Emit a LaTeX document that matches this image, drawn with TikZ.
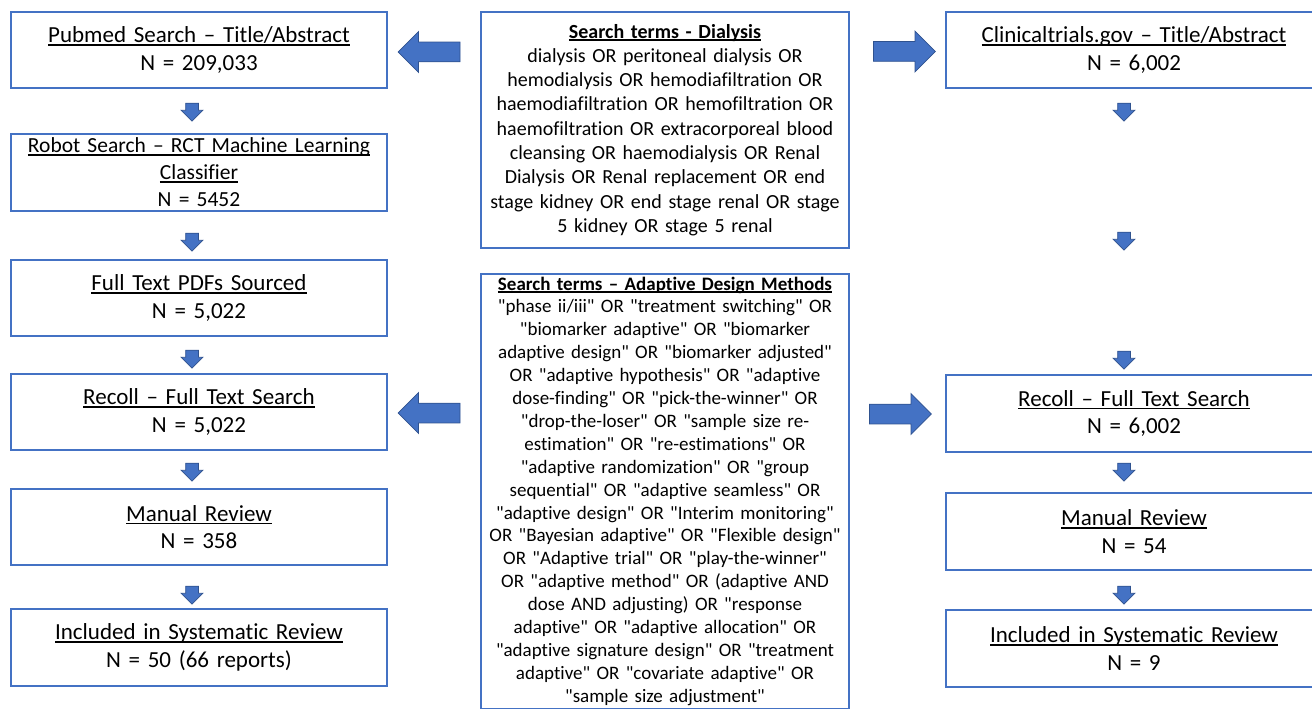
\documentclass[tikz,border=0pt]{standalone}
\usepackage{fontspec}
\setmainfont{Carlito}[Ligatures={TeXOff,NoCommon}]
\usetikzlibrary{shapes.arrows,calc}

\definecolor{boxblue}{RGB}{68,114,196}
\definecolor{arrowfill}{RGB}{68,114,196}
\definecolor{arrowline}{RGB}{47,82,143}

% underline that keeps a fixed depth
\newcommand{\ulin}[1]{\leavevmode\setbox0=\hbox{#1}\rlap{\rule[-0.13em]{\wd0}{0.065em}}\box0}

\tikzset{
  flowbox/.style={draw=boxblue, line width=1.5pt, fill=white, text width=376pt,
    align=center, minimum height=76pt, inner sep=0pt,
    font=\fontsize{23}{27.5}\selectfont},
  termbox/.style={draw=boxblue, line width=1.5pt, fill=white, text width=364pt,
    align=center, inner xsep=2pt},
  downarrow/.style={single arrow, draw=arrowline, fill=arrowfill, line width=0.75pt,
    rotate=-90, inner xsep=0pt, inner ysep=6pt, single arrow head extend=4.5pt,
    minimum height=18pt},
  bigarrow/.style={single arrow, draw=arrowline, fill=arrowfill, line width=0.75pt,
    inner xsep=0pt, inner ysep=9.5pt, single arrow head extend=10.5pt,
    minimum height=62pt},
}

\begin{document}
\begin{tikzpicture}[x=1pt, y=-1pt]
  \useasboundingbox (0,0) rectangle (1312,709);
  \clip (0,0) rectangle (1312,709);

  % left column: pubmed
  \node[flowbox] (pub) at (199,50) {\ulin{Pubmed Search – Title/Abstract}\\N = 209,033};
  \node[flowbox, minimum height=77pt, font=\fontsize{21.5}{27}\selectfont] (robot) at (199,172.5) {\ulin{Robot Search – RCT Machine Learning}\\\ulin{Classifier}\\N = 5452};
  \node[flowbox] (pdfs) at (199,298) {\ulin{Full Text PDFs Sourced}\\N = 5,022};
  \node[flowbox] (recollL) at (199,412) {\ulin{Recoll – Full Text Search}\\N = 5,022};
  \node[flowbox] (manualL) at (199,527) {\ulin{Manual Review}\\N = 358};
  \node[flowbox, minimum height=77pt] (inclL) at (199,647.5) {\ulin{Included in Systematic Review}\\N = 50 (66 reports)};

  % right column: clinicaltrials.gov
  \node[flowbox] (clin) at (1134,50) {\ulin{Clinicaltrials.gov – Title/Abstract}\\N = 6,002};
  \node[flowbox, minimum height=77pt] (recollR) at (1134,413.5) {\ulin{Recoll – Full Text Search}\\N = 6,002};
  \node[flowbox, minimum height=77pt] (manualR) at (1134,531.5) {\ulin{Manual Review}\\N = 54};
  \node[flowbox, minimum height=77pt] (inclR) at (1134,648.5) {\ulin{Included in Systematic Review}\\N = 9};

  % search terms
  \node[termbox, minimum height=236pt, font=\fontsize{20}{24.3}\selectfont] (dial) at (665,130) {%
    \textbf{\ulin{Search terms - Dialysis}}\\
    dialysis OR peritoneal dialysis OR\\
    hemodialysis OR hemodiafiltration OR\\
    haemodiafiltration OR hemofiltration OR\\
    haemofiltration OR extracorporeal blood\\
    cleansing OR haemodialysis OR Renal\\
    Dialysis OR Renal replacement OR end\\
    stage kidney OR end stage renal OR stage\\
    5 kidney OR stage 5 renal};
  \node[termbox, anchor=north, inner ysep=3pt, font=\fontsize{19}{22.9}\selectfont] (adapt) at (665,273) {%
    \textbf{\ulin{Search terms – Adaptive Design Methods}}\\
    "phase ii/iii" OR "treatment switching" OR\\
    "biomarker adaptive" OR "biomarker\\
    adaptive design" OR "biomarker adjusted"\\
    OR "adaptive hypothesis" OR "adaptive\\
    dose-finding" OR "pick-the-winner" OR\\
    "drop-the-loser" OR "sample size re-\\
    estimation" OR "re-estimations" OR\\
    "adaptive randomization" OR "group\\
    sequential" OR "adaptive seamless" OR\\
    "adaptive design" OR "Interim monitoring"\\
    OR "Bayesian adaptive" OR "Flexible design"\\
    OR "Adaptive trial" OR "play-the-winner"\\
    OR "adaptive method" OR (adaptive AND\\
    dose AND adjusting) OR "response\\
    adaptive" OR "adaptive allocation" OR\\
    "adaptive signature design" OR "treatment\\
    adaptive" OR "covariate adaptive" OR\\
    "sample size adjustment"};

  % big arrows out of the search terms
  \node[bigarrow, rotate=180] (toPub) at (434,52) {};
  \node[bigarrow] (toClin) at (899.5,51.5) {};
  \node[bigarrow, rotate=180] (toRecollL) at (434,413) {};
  \node[bigarrow] (toRecollR) at (895.5,414) {};

  % small arrows down the columns
  \foreach \name/\y in {l1/109, l2/239, l3/356, l4/469, l5/592}
    \node[downarrow] (\name) at (192,\y) {};
  \foreach \name/\y in {r1/109, r2/238, r3/357, r4/469, r5/592}
    \node[downarrow] (\name) at (1124,\y) {};
\end{tikzpicture}
\end{document}
